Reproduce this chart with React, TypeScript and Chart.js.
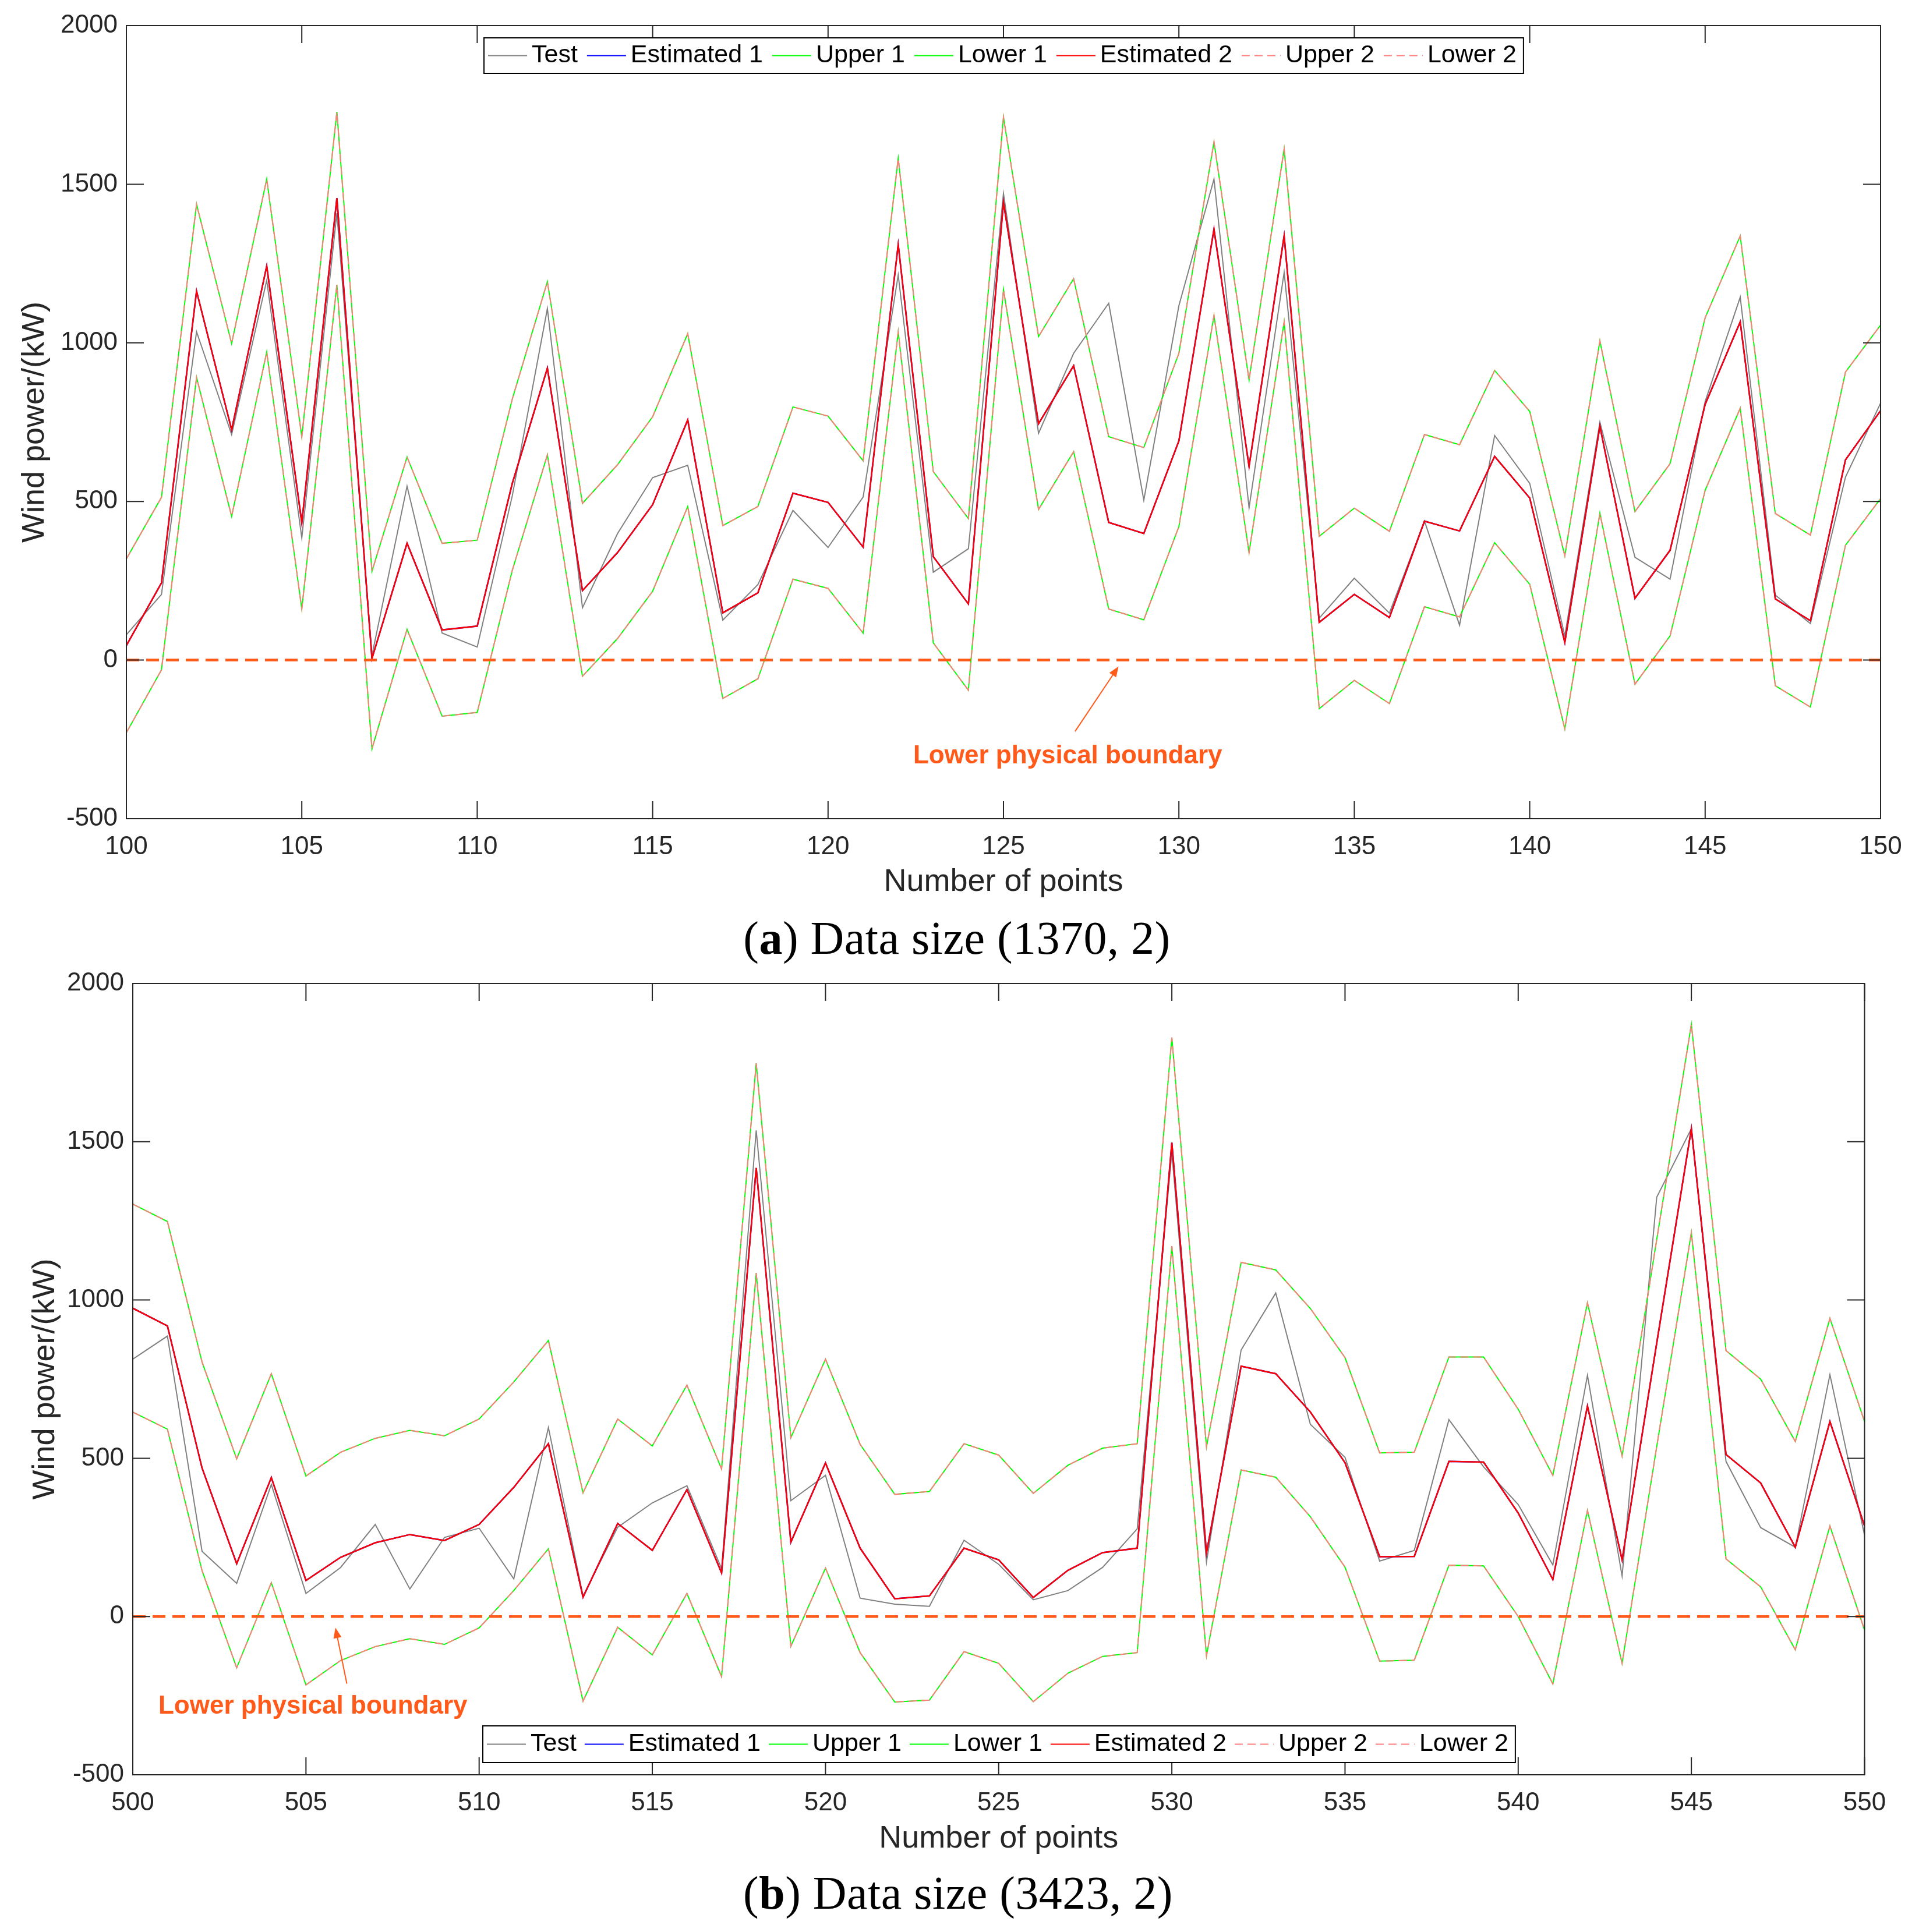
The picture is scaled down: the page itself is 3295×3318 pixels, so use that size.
import { useEffect, useRef } from "react";
import { Chart, registerables } from "chart.js";

Chart.register(...registerables);
Chart.defaults.font.family = '"Liberation Sans", Arial, sans-serif';

// (a) points 100..150
const startA = 100;
const testA = [80, 207, 1035, 711, 1197, 385, 1409, 15, 548, 85, 41, 518, 1108, 165, 399, 575, 614, 126, 238, 472, 355, 514, 1214, 277, 351, 1471, 715, 967, 1125, 504, 1117, 1516, 480, 1222, 132, 258, 148, 438, 110, 708, 557, 76, 750, 324, 255, 815, 1144, 205, 115, 577, 810];
const estA = [46, 243, 1163, 726, 1242, 433, 1456, 5, 368, 95, 107, 557, 920, 219, 339, 490, 757, 149, 212, 526, 497, 356, 1310, 326, 177, 1443, 745, 928, 434, 399, 691, 1358, 611, 1337, 119, 207, 134, 438, 407, 642, 511, 56, 737, 195, 346, 806, 1066, 193, 124, 631, 786];
const upperA = [319, 513, 1437, 998, 1516, 704, 1728, 280, 640, 368, 378, 823, 1193, 494, 616, 767, 1029, 424, 484, 798, 769, 628, 1582, 594, 446, 1711, 1020, 1202, 704, 670, 967, 1633, 883, 1611, 390, 479, 406, 711, 679, 913, 784, 329, 1006, 468, 619, 1079, 1337, 462, 394, 908, 1056];
const lowerA = [-229, -31, 891, 453, 971, 161, 1183, -280, 97, -177, -165, 283, 647, -51, 68, 217, 484, -121, -59, 255, 226, 85, 1035, 54, -95, 1168, 475, 657, 161, 127, 421, 1086, 339, 1066, -153, -64, -137, 168, 136, 370, 239, -217, 463, -76, 76, 535, 794, -81, -148, 362, 509];

// (b) points 500..550
const startB = 500;
const testB = [813, 886, 206, 105, 417, 73, 155, 291, 87, 250, 279, 119, 597, 65, 282, 359, 413, 151, 1536, 366, 446, 58, 39, 32, 241, 165, 53, 82, 155, 277, 1466, 172, 842, 1022, 607, 503, 175, 209, 622, 473, 354, 163, 762, 128, 1325, 1541, 490, 281, 219, 764, 257];
const estB = [974, 918, 469, 167, 439, 114, 187, 233, 259, 240, 291, 408, 546, 61, 294, 209, 401, 138, 1417, 235, 485, 216, 56, 65, 216, 179, 60, 146, 202, 216, 1497, 201, 791, 767, 646, 486, 189, 190, 490, 488, 327, 117, 665, 179, 864, 1541, 512, 422, 219, 616, 286];
const upperB = [1303, 1248, 804, 498, 767, 444, 519, 563, 588, 571, 624, 741, 872, 391, 624, 539, 731, 466, 1748, 565, 813, 544, 386, 395, 546, 510, 389, 478, 532, 546, 1829, 536, 1119, 1095, 973, 818, 517, 519, 820, 820, 655, 446, 991, 507, 1191, 1871, 840, 750, 553, 942, 616];
const lowerB = [646, 592, 145, -162, 107, -216, -139, -95, -70, -88, -36, 82, 214, -267, -34, -121, 73, -190, 1085, -94, 153, -114, -270, -264, -111, -148, -269, -179, -126, -114, 1170, -124, 463, 440, 315, 156, -141, -138, 162, 160, 0, -213, 335, -148, 537, 1213, 182, 94, -105, 286, -43];

const yTicks = [-500, 0, 500, 1000, 1500, 2000];
const seriesNames = ["Test", "Estimated 1", "Upper 1", "Lower 1", "Estimated 2", "Upper 2", "Lower 2"];
const noteText = "Lower physical boundary";

const W = 3295;
const AXIS = "#262626";
const ORANGE = "#FF5A1A";

function PowerChart(props: any) {
    const canvasRef = useRef<HTMLCanvasElement>(null);
    const p = props;

    useEffect(() => {
        const xs = p.test.map((_: number, i: number) => p.start + i);
        const pts = (arr: number[]) => arr.map((v, i) => ({ x: xs[i], y: v }));
        const line = (label: string, data: number[], color: string, width: number, order: number, dash: number[] = []) => ({
            label, data: pts(data), borderColor: color, backgroundColor: color,
            borderWidth: width, borderDash: dash, pointRadius: 0, fill: false, order,
        });

        const datasets: any[] = [
            line(seriesNames[0], p.test, "#808080", 2, 7),
            line(seriesNames[1], p.est, "#0000FF", 2.5, 6),
            line(seriesNames[2], p.upper, "#00FF00", 2, 5),
            line(seriesNames[3], p.lower, "#00FF00", 2, 4),
            line(seriesNames[4], p.est, "#FF0000", 2.5, 3),
            line(seriesNames[5], p.upper, "#FF7F7F", 2, 2, [14, 8]),
            line(seriesNames[6], p.lower, "#FF7F7F", 2, 1, [14, 8]),
            { ...line("boundary", [0, 0], ORANGE, 4.5, 0, [22, 12]), data: [{ x: xs[0], y: 0 }, { x: xs[xs.length - 1], y: 0 }], hideInLegend: true },
        ];

        // matlab-like box with inward ticks, legend box and annotation
        const extras = {
            id: "extras",
            afterDraw(chart: any) {
                const ctx = chart.ctx;
                const { left, right, top, bottom } = chart.chartArea;
                const sx = chart.scales.x;
                const sy = chart.scales.y;
                ctx.save();
                ctx.strokeStyle = AXIS;
                ctx.lineWidth = 2;
                ctx.setLineDash([]);
                ctx.strokeRect(left, top, right - left, bottom - top);
                ctx.beginPath();
                sx.ticks.forEach((t: any) => {
                    const px = sx.getPixelForValue(t.value);
                    ctx.moveTo(px, bottom); ctx.lineTo(px, bottom - 30);
                    ctx.moveTo(px, top); ctx.lineTo(px, top + 30);
                });
                sy.ticks.forEach((t: any) => {
                    const py = sy.getPixelForValue(t.value);
                    ctx.moveTo(left, py); ctx.lineTo(left + 30, py);
                    ctx.moveTo(right, py); ctx.lineTo(right - 30, py);
                });
                ctx.stroke();

                // annotation
                const n = p.note;
                const hx = sx.getPixelForValue(n.headX), hy = sy.getPixelForValue(n.headY);
                const tx = sx.getPixelForValue(n.tailX), ty = sy.getPixelForValue(n.tailY);
                const ang = Math.atan2(hy - ty, hx - tx);
                ctx.strokeStyle = ORANGE;
                ctx.fillStyle = ORANGE;
                ctx.lineWidth = 2;
                ctx.beginPath();
                ctx.moveTo(tx, ty);
                ctx.lineTo(hx - 12 * Math.cos(ang), hy - 12 * Math.sin(ang));
                ctx.stroke();
                ctx.beginPath();
                ctx.moveTo(hx, hy);
                ctx.lineTo(hx - 18 * Math.cos(ang) + 7 * Math.sin(ang), hy - 18 * Math.sin(ang) - 7 * Math.cos(ang));
                ctx.lineTo(hx - 18 * Math.cos(ang) - 7 * Math.sin(ang), hy - 18 * Math.sin(ang) + 7 * Math.cos(ang));
                ctx.closePath();
                ctx.fill();
                ctx.font = 'bold 44px "Liberation Sans", Arial, sans-serif';
                ctx.textAlign = "center";
                ctx.textBaseline = "middle";
                ctx.fillText(noteText, sx.getPixelForValue(n.textX), sy.getPixelForValue(n.textY));

                // legend
                const items = chart.data.datasets.filter((d: any) => !d.hideInLegend);
                ctx.font = '43px "Liberation Sans", Arial, sans-serif';
                const widths = items.map((d: any) => ctx.measureText(d.label).width);
                const lineLen = 67, gapText = 8, gapItem = p.legend.gap;
                const boxW = 7 + widths.reduce((s: number, w: number) => s + w + lineLen + gapText, 0) + gapItem * (items.length - 1) + 12;
                const lg = p.legend;
                ctx.fillStyle = "#FFFFFF";
                ctx.fillRect(lg.left, lg.top, boxW, lg.height);
                ctx.strokeStyle = "#000000";
                ctx.lineWidth = 2;
                ctx.strokeRect(lg.left, lg.top, boxW, lg.height);
                const cy = lg.top + lg.height / 2;
                let cx = lg.left + 7;
                items.forEach((d: any, i: number) => {
                    ctx.strokeStyle = d.borderColor;
                    ctx.lineWidth = 2;
                    ctx.setLineDash(d.borderDash);
                    ctx.beginPath();
                    ctx.moveTo(cx, cy);
                    ctx.lineTo(cx + lineLen, cy);
                    ctx.stroke();
                    ctx.setLineDash([]);
                    cx += lineLen + gapText;
                    ctx.fillStyle = "#000000";
                    ctx.textAlign = "left";
                    ctx.fillText(d.label, cx, cy);
                    cx += widths[i] + gapItem;
                });
                ctx.restore();
            },
        };

        const chart = new Chart(canvasRef.current as HTMLCanvasElement, {
            type: "line",
            data: { datasets },
            plugins: [extras],
            options: {
                animation: false,
                responsive: false,
                devicePixelRatio: 1,
                layout: { padding: { left: 0, top: p.plotTop, right: W - p.plotRight, bottom: 0 } },
                plugins: { legend: { display: false }, tooltip: { enabled: false } },
                elements: { line: { tension: 0 } },
                scales: {
                    x: {
                        type: "linear",
                        min: xs[0],
                        max: xs[xs.length - 1],
                        grid: { display: false, drawTicks: false },
                        border: { display: false },
                        ticks: { stepSize: 5, padding: 22, color: AXIS, font: { size: 44 }, maxRotation: 0, autoSkip: false, callback: (v: any) => String(v) },
                        title: { display: true, text: "Number of points", color: AXIS, font: { size: 54 }, padding: { top: 0, bottom: p.xTitlePad } },
                        afterFit: (s: any) => { s.height = p.height - p.plotBottom; },
                    },
                    y: {
                        type: "linear",
                        min: yTicks[0],
                        max: yTicks[yTicks.length - 1],
                        grid: { display: false, drawTicks: false },
                        border: { display: false },
                        ticks: { stepSize: 500, padding: 15, color: AXIS, font: { size: 44 }, callback: (v: any) => String(v) },
                        title: { display: true, text: "Wind power/(kW)", color: AXIS, font: { size: 54 }, padding: { top: p.yTitlePad, bottom: 0 } },
                        afterFit: (s: any) => { s.width = p.plotLeft; },
                    },
                },
            } as any,
        });

        return () => chart.destroy();
    }, []);

    return (
        <canvas
            ref={canvasRef}
            width={W}
            height={p.height}
            style={{ position: "absolute", left: 0, top: p.top, width: W, height: p.height }}
        />
    );
}

const captionStyle = (top: number, cx: number): any => ({
    position: "absolute", top, left: cx - 1000, width: 2000, textAlign: "center",
    fontFamily: '"Liberation Serif", "Times New Roman", serif', fontSize: 80, lineHeight: "80px",
    letterSpacing: "0.5px", color: "#000",
});

export default function App() {
    return (
        <div style={{ position: "absolute", left: 0, top: 0, width: W, height: 3318, background: "#fff", overflow: "hidden" }}>
            <PowerChart
                start={startA} test={testA} est={estA} upper={upperA} lower={lowerA}
                top={0} height={1570} plotTop={44} plotBottom={1406} plotLeft={217} plotRight={3229}
                xTitlePad={22} yTitlePad={28}
                legend={{ left: 831, top: 65, height: 61, gap: 16 }}
                note={{ textX: 126.83, textY: -304, headX: 128.28, headY: -20, tailX: 127.04, tailY: -225 }}
            />
            <PowerChart
                start={startB} test={testB} est={estB} upper={upperB} lower={lowerB}
                top={1640} height={1570} plotTop={49} plotBottom={1408} plotLeft={228} plotRight={3201.5}
                xTitlePad={19} yTitlePad={46}
                legend={{ left: 829, top: 1324, height: 63, gap: 14 }}
                note={{ textX: 505.2, textY: -285, headX: 505.85, headY: -35, tailX: 506.18, tailY: -212 }}
            />
            <div style={captionStyle(1571, 1643)}>(<b>a</b>) Data size (1370, 2)</div>
            <div style={captionStyle(3211, 1645)}>(<b>b</b>) Data size (3423, 2)</div>
        </div>
    );
}
